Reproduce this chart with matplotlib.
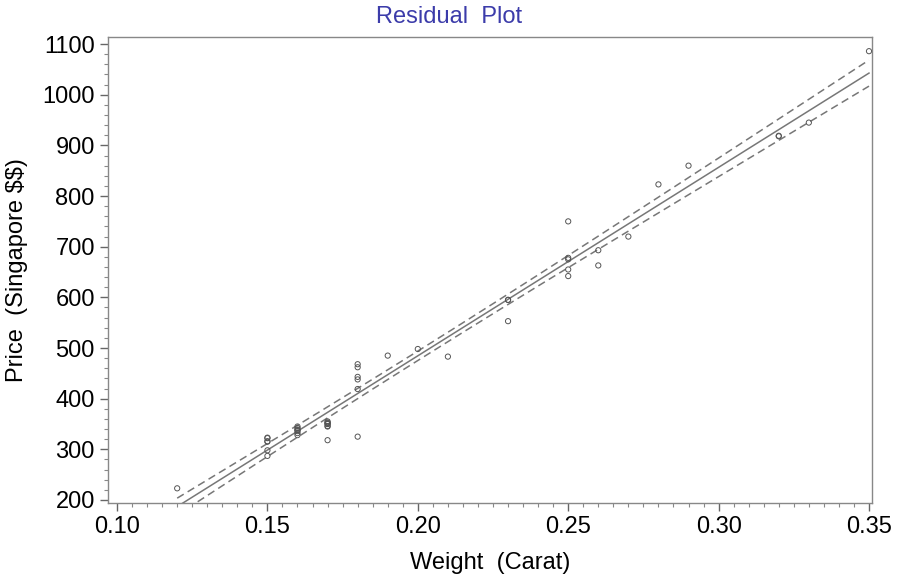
import numpy as np
import matplotlib.pyplot as plt
from matplotlib.ticker import MultipleLocator

plt.rcParams['font.family'] = ['Liberation Sans', 'DejaVu Sans']

# diamond weights (carat) and prices (Singapore $)
carat = [0.17, 0.16, 0.17, 0.18, 0.25, 0.16, 0.15, 0.19, 0.21, 0.15,
         0.18, 0.28, 0.16, 0.20, 0.23, 0.29, 0.12, 0.26, 0.25, 0.27,
         0.18, 0.16, 0.17, 0.16, 0.17, 0.18, 0.17, 0.18, 0.17, 0.15,
         0.17, 0.32, 0.32, 0.15, 0.16, 0.16, 0.23, 0.23, 0.17, 0.33,
         0.25, 0.35, 0.18, 0.25, 0.25, 0.15, 0.26, 0.15]
price = [355, 328, 350, 325, 642, 342, 322, 485, 483, 323,
         462, 823, 336, 498, 595, 860, 223, 663, 750, 720,
         468, 345, 352, 332, 353, 438, 318, 419, 346, 315,
         350, 918, 919, 298, 339, 338, 595, 553, 345, 945,
         655, 1086, 443, 678, 675, 287, 693, 316]
t_crit = 2.0129  # t(0.975, 46)

x = np.array(carat)
y = np.array(price)
n = len(x)
b1, b0 = np.polyfit(x, y, 1)
resid = y - (b0 + b1 * x)
s = np.sqrt(np.sum(resid ** 2) / (n - 2))
sxx = np.sum((x - x.mean()) ** 2)

xs = np.linspace(x.min(), x.max(), 200)
fit = b0 + b1 * xs
half = t_crit * s * np.sqrt(1 / n + (xs - x.mean()) ** 2 / sxx)

fig = plt.figure(figsize=(8.99, 5.85), dpi=100)
ax = fig.add_axes([108 / 899, 1 - 503 / 585, 764 / 899, 466 / 585])

ax.scatter(x, y, s=14, facecolors='none', edgecolors='#555555', linewidths=0.7, zorder=3)
ax.plot(xs, fit, color='#777777', lw=1.1)
ax.plot(xs, fit - half, color='#777777', lw=1.1, ls=(0, (5, 3)))
ax.plot(xs, fit + half, color='#777777', lw=1.1, ls=(0, (5, 3)))

ax.set_xlim(0.097, 0.351)
ax.set_ylim(194, 1114)
ax.xaxis.set_minor_locator(MultipleLocator(0.005))
ax.yaxis.set_major_locator(MultipleLocator(100))
ax.yaxis.set_minor_locator(MultipleLocator(20))
xt = np.arange(0.10, 0.351, 0.05)
ax.set_xticks(xt)
ax.set_xticklabels(['%.2f' % v for v in xt])

ax.tick_params(axis='both', which='major', labelsize=17, length=6, color='#666666', width=1)
ax.tick_params(axis='both', which='minor', length=3, color='#888888', width=0.8)
for sp in ax.spines.values():
    sp.set_color('#888888')
    sp.set_linewidth(1)

ax.set_xlabel('Weight  (Carat)', fontsize=17, labelpad=10)
ax.set_ylabel(r'Price  (Singapore \$\$)', fontsize=17, labelpad=10)
fig.text(0.5, 1 - 17 / 585, 'Residual  Plot', fontsize=17, color='#3c3caa',
         ha='center', va='center')

fig.savefig('out.png', dpi=100)
